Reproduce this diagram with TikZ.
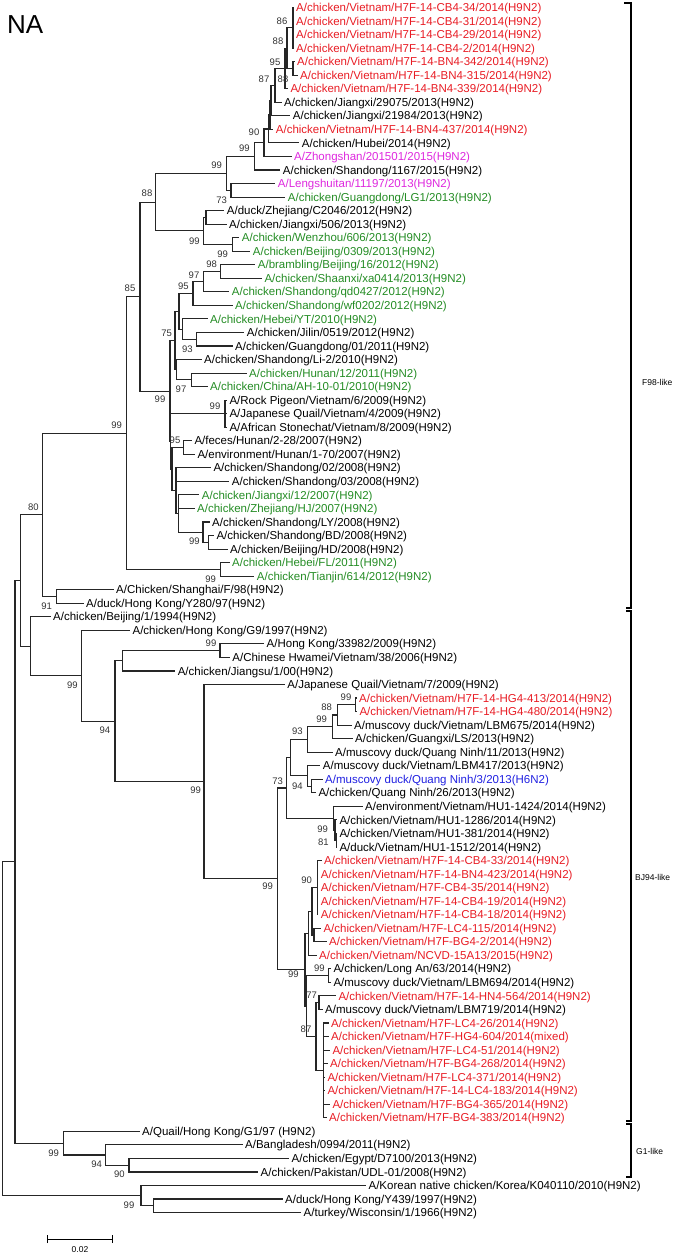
\documentclass[tikz,border=0pt]{standalone}
\usepackage{fontspec}
\setmainfont{Liberation Sans}
\definecolor{cr}{RGB}{232,28,36}
\definecolor{cm}{RGB}{222,40,222}
\definecolor{cg}{RGB}{36,140,36}
\definecolor{cb}{RGB}{32,32,225}
\newcommand\LF[4]{\coordinate (L#1) at (#2,{7.5+(#1-1)*13.54});\node[lf,text=#3] (T#1) at ([xshift=3pt]L#1) {#4};}
\newcommand\IN[3]{\coordinate (#1) at (#2,{7.5+(#3-1)*13.54});}
\newcommand\E[2]{\foreach \c in {#2} {\draw[br] (#1) |- (\c);}}
\newcommand\BS[4]{\node[bs] (#1) at (#2,#3) {#4};}
\begin{document}
\begin{tikzpicture}[x=1pt,y=-1pt,
  br/.style={line width=1.1pt,black!85,line cap=rect},
  lf/.style={anchor=west,inner sep=0pt,font=\fontsize{11.5}{12}\selectfont,text height=9pt,text depth=0.8pt},
  bs/.style={inner sep=0pt,font=\fontsize{9.5}{10}\selectfont,text=black!80},
  cl/.style={anchor=west,inner sep=0pt,font=\fontsize{8.5}{9}\selectfont},
  brk/.style={line width=1.2pt,black}]
\useasboundingbox (0,0) rectangle (674,1255);
\node[anchor=west,inner sep=0pt,font=\fontsize{26}{28}\selectfont] (title) at (7,25) {NA};
% leaves
\LF{1}{293}{cr}{A/chicken/Vietnam/H7F-14-CB4-34/2014(H9N2)}
\LF{2}{293}{cr}{A/chicken/Vietnam/H7F-14-CB4-31/2014(H9N2)}
\LF{3}{293}{cr}{A/chicken/Vietnam/H7F-14-CB4-29/2014(H9N2)}
\LF{4}{293}{cr}{A/chicken/Vietnam/H7F-14-CB4-2/2014(H9N2)}
\LF{5}{294}{cr}{A/chicken/Vietnam/H7F-14-BN4-342/2014(H9N2)}
\LF{6}{297}{cr}{A/chicken/Vietnam/H7F-14-BN4-315/2014(H9N2)}
\LF{7}{287.3}{cr}{A/chicken/Vietnam/H7F-14-BN4-339/2014(H9N2)}
\LF{8}{281}{black}{A/chicken/Jiangxi/29075/2013(H9N2)}
\LF{9}{289.7}{black}{A/chicken/Jiangxi/21984/2013(H9N2)}
\LF{10}{272.7}{cr}{A/chicken/Vietnam/H7F-14-BN4-437/2014(H9N2)}
\LF{11}{298.7}{black}{A/chicken/Hubei/2014(H9N2)}
\LF{12}{291}{cm}{A/Zhongshan/201501/2015(H9N2)}
\LF{13}{279.7}{black}{A/chicken/Shandong/1167/2015(H9N2)}
\LF{14}{274.7}{cm}{A/Lengshuitan/11197/2013(H9N2)}
\LF{15}{284.7}{cg}{A/chicken/Guangdong/LG1/2013(H9N2)}
\LF{16}{223.7}{black}{A/duck/Zhejiang/C2046/2012(H9N2)}
\LF{17}{226}{black}{A/chicken/Jiangxi/506/2013(H9N2)}
\LF{18}{238.7}{cg}{A/chicken/Wenzhou/606/2013(H9N2)}
\LF{19}{249.7}{cg}{A/chicken/Beijing/0309/2013(H9N2)}
\LF{20}{254.7}{cg}{A/brambling/Beijing/16/2012(H9N2)}
\LF{21}{261.3}{cg}{A/chicken/Shaanxi/xa0414/2013(H9N2)}
\LF{22}{228.7}{cg}{A/chicken/Shandong/qd0427/2012(H9N2)}
\LF{23}{232}{cg}{A/chicken/Shandong/wf0202/2012(H9N2)}
\LF{24}{207}{cg}{A/chicken/Hebei/YT/2010(H9N2)}
\LF{25}{243.7}{black}{A/chicken/Jilin/0519/2012(H9N2)}
\LF{26}{232}{black}{A/chicken/Guangdong/01/2011(H9N2)}
\LF{27}{201}{black}{A/chicken/Shandong/Li-2/2010(H9N2)}
\LF{28}{246}{cg}{A/chicken/Hunan/12/2011(H9N2)}
\LF{29}{207}{cg}{A/chicken/China/AH-10-01/2010(H9N2)}
\LF{30}{226.3}{black}{A/Rock Pigeon/Vietnam/6/2009(H9N2)}
\LF{31}{226.3}{black}{A/Japanese Quail/Vietnam/4/2009(H9N2)}
\LF{32}{226.3}{black}{A/African Stonechat/Vietnam/8/2009(H9N2)}
\LF{33}{191.3}{black}{A/feces/Hunan/2-28/2007(H9N2)}
\LF{34}{194.3}{black}{A/environment/Hunan/1-70/2007(H9N2)}
\LF{35}{210.3}{black}{A/chicken/Shandong/02/2008(H9N2)}
\LF{36}{228.7}{black}{A/chicken/Shandong/03/2008(H9N2)}
\LF{37}{198.7}{cg}{A/chicken/Jiangxi/12/2007(H9N2)}
\LF{38}{194}{cg}{A/chicken/Zhejiang/HJ/2007(H9N2)}
\LF{39}{209}{black}{A/chicken/Shandong/LY/2008(H9N2)}
\LF{40}{213.3}{black}{A/chicken/Shandong/BD/2008(H9N2)}
\LF{41}{227}{black}{A/chicken/Beijing/HD/2008(H9N2)}
\LF{42}{229}{cg}{A/chicken/Hebei/FL/2011(H9N2)}
\LF{43}{253.7}{cg}{A/chicken/Tianjin/614/2012(H9N2)}
\LF{44}{113}{black}{A/Chicken/Shanghai/F/98(H9N2)}
\LF{45}{83}{black}{A/duck/Hong Kong/Y280/97(H9N2)}
\LF{46}{50}{black}{A/chicken/Beijing/1/1994(H9N2)}
\LF{47}{129.4}{black}{A/chicken/Hong Kong/G9/1997(H9N2)}
\LF{48}{263.5}{black}{A/Hong Kong/33982/2009(H9N2)}
\LF{49}{229.2}{black}{A/Chinese Hwamei/Vietnam/38/2006(H9N2)}
\LF{50}{174.6}{black}{A/chicken/Jiangsu/1/00(H9N2)}
\LF{51}{284.2}{black}{A/Japanese Quail/Vietnam/7/2009(H9N2)}
\LF{52}{356}{cr}{A/chicken/Vietnam/H7F-14-HG4-413/2014(H9N2)}
\LF{53}{356.3}{cr}{A/chicken/Vietnam/H7F-14-HG4-480/2014(H9N2)}
\LF{54}{351}{black}{A/muscovy duck/Vietnam/LBM675/2014(H9N2)}
\LF{55}{352}{black}{A/chicken/Guangxi/LS/2013(H9N2)}
\LF{56}{332}{black}{A/muscovy duck/Quang Ninh/11/2013(H9N2)}
\LF{57}{319.7}{black}{A/muscovy duck/Vietnam/LBM417/2013(H9N2)}
\LF{58}{322}{cb}{A/muscovy duck/Quang Ninh/3/2013(H6N2)}
\LF{59}{315.3}{black}{A/chicken/Quang Ninh/26/2013(H9N2)}
\LF{60}{362}{black}{A/environment/Vietnam/HU1-1424/2014(H9N2)}
\LF{61}{336.3}{black}{A/chicken/Vietnam/HU1-1286/2014(H9N2)}
\LF{62}{336.3}{black}{A/chicken/Vietnam/HU1-381/2014(H9N2)}
\LF{63}{336.3}{black}{A/duck/Vietnam/HU1-1512/2014(H9N2)}
\LF{64}{321}{cr}{A/chicken/Vietnam/H7F-14-CB4-33/2014(H9N2)}
\LF{65}{317.7}{cr}{A/chicken/Vietnam/H7F-14-BN4-423/2014(H9N2)}
\LF{66}{317.7}{cr}{A/chicken/Vietnam/H7F-CB4-35/2014(H9N2)}
\LF{67}{317.7}{cr}{A/chicken/Vietnam/H7F-14-CB4-19/2014(H9N2)}
\LF{68}{317.7}{cr}{A/chicken/Vietnam/H7F-14-CB4-18/2014(H9N2)}
\LF{69}{320.3}{cr}{A/chicken/Vietnam/H7F-LC4-115/2014(H9N2)}
\LF{70}{326}{cr}{A/chicken/Vietnam/H7F-BG4-2/2014(H9N2)}
\LF{71}{316}{cr}{A/chicken/Vietnam/NCVD-15A13/2015(H9N2)}
\LF{72}{330.3}{black}{A/chicken/Long An/63/2014(H9N2)}
\LF{73}{330.3}{black}{A/muscovy duck/Vietnam/LBM694/2014(H9N2)}
\LF{74}{335.3}{cr}{A/chicken/Vietnam/H7F-14-HN4-564/2014(H9N2)}
\LF{75}{322}{black}{A/muscovy duck/Vietnam/LBM719/2014(H9N2)}
\LF{76}{328}{cr}{A/chicken/Vietnam/H7F-LC4-26/2014(H9N2)}
\LF{77}{328}{cr}{A/chicken/Vietnam/H7F-HG4-604/2014(mixed)}
\LF{78}{329.3}{cr}{A/chicken/Vietnam/H7F-LC4-51/2014(H9N2)}
\LF{79}{327}{cr}{A/chicken/Vietnam/H7F-BG4-268/2014(H9N2)}
\LF{80}{324.3}{cr}{A/chicken/Vietnam/H7F-LC4-371/2014(H9N2)}
\LF{81}{324.3}{cr}{A/chicken/Vietnam/H7F-14-LC4-183/2014(H9N2)}
\LF{82}{329.3}{cr}{A/chicken/Vietnam/H7F-BG4-365/2014(H9N2)}
\LF{83}{326}{cr}{A/chicken/Vietnam/H7F-BG4-383/2014(H9N2)}
\LF{84}{139}{black}{A/Quail/Hong Kong/G1/97 (H9N2)}
\LF{85}{242}{black}{A/Bangladesh/0994/2011(H9N2)}
\LF{86}{288.5}{black}{A/chicken/Egypt/D7100/2013(H9N2)}
\LF{87}{257.5}{black}{A/chicken/Pakistan/UDL-01/2008(H9N2)}
\LF{88}{365.4}{black}{A/Korean native chicken/Korea/K040110/2010(H9N2)}
\LF{89}{282}{black}{A/duck/Hong Kong/Y439/1997(H9N2)}
\LF{90}{300.5}{black}{A/turkey/Wisconsin/1/1966(H9N2)}
% internal nodes
\IN{N1_4}{293}{2.5}\IN{N5_6}{293}{5.5}\IN{N1_6}{287}{4}\IN{N1_7}{285}{5.5}
\IN{N1_8}{275}{6.75}\IN{N1_9}{271}{7.875}\IN{N1_10}{270}{8.9375}\IN{N1_11}{268.3}{9.97}
\IN{N1_12}{264}{10.98}\IN{Nb}{254.3}{11.99}\IN{Nd}{231}{14.5}\IN{Nc}{226.7}{13.245}
\IN{Ng}{206}{16.5}\IN{Nh}{232.7}{18.5}\IN{Nf}{203.5}{17.5}\IN{Ne}{155.7}{15.37}
\IN{n20_21}{220.7}{20.5}\IN{n20_22}{203.3}{21.25}\IN{n20_23}{193}{22.125}
\IN{n25_26}{196.7}{25.5}\IN{n24_26}{182.7}{24.75}\IN{n20_26}{179}{23.44}
\IN{n28_29}{191.7}{28.5}\IN{n27_29}{176.7}{27.75}\IN{n20_29}{175}{25.6}
\IN{n30_32}{225}{31}\IN{n33_34}{183.3}{33.5}\IN{n40_41}{208.5}{40.5}\IN{n39_41}{203}{39.75}
\IN{nD}{178.5}{38.375}\IN{nE}{176}{36.69}\IN{nF}{172}{35.09}\IN{nG}{170.5}{33.05}
\IN{nH}{170}{29.33}\IN{Ni}{140}{22.35}\IN{n42_43}{220.5}{42.5}\IN{Nl}{126.7}{32.43}
\IN{Nn}{56.7}{44.5}\IN{Nm}{42.7}{38.46}
\IN{n48_49}{220}{48.5}\IN{n48_50}{122.7}{49.25}
\IN{n52_53}{355.5}{52.5}\IN{n52_54}{337.3}{53.25}\IN{n52_55}{332.7}{54.125}\IN{n52_56}{307.3}{55.06}
\IN{n58_59}{311.7}{58.5}\IN{n57_59}{307.3}{57.75}\IN{n52_59}{290.7}{56.41}
\IN{n62_63}{336.5}{62.5}\IN{n61_63}{335}{61.75}\IN{nHU}{333.3}{60.875}\IN{n73}{286.7}{58.64}
\IN{n64_68}{317.3}{66}\IN{n69_70}{314}{69.5}\IN{n64_70}{312}{67.75}\IN{n64_71}{308.3}{69.375}
\IN{n72_73}{328.3}{72.5}\IN{n74_75}{319}{74.5}\IN{n76_83}{323.3}{79.5}\IN{n74_83}{316}{77}
\IN{n72_83}{306.5}{74.75}\IN{Nee}{305}{72.06}\IN{Ndd}{277.5}{65.35}\IN{Naa}{204}{58.18}
\IN{Nz}{115}{53.71}\IN{Ny}{81.7}{50.36}\IN{Nx}{30.7}{48.18}\IN{Nw}{20.7}{43.32}
\IN{Nt}{129}{86.5}\IN{Ns}{105.3}{85.75}\IN{Nr}{63.6}{84.875}\IN{Nq}{15}{64.1}
\IN{Nv}{153.5}{89.5}\IN{Nu}{141}{88.75}\IN{Nroot}{2.7}{76.4}
% edges
\E{N1_4}{L1,L2,L3,L4}\E{N5_6}{L5,L6}\E{N1_6}{N1_4,N5_6}\E{N1_7}{N1_6,L7}
\E{N1_8}{N1_7,L8}\E{N1_9}{N1_8,L9}\E{N1_10}{N1_9,L10}\E{N1_11}{N1_10,L11}
\E{N1_12}{N1_11,L12}\E{Nb}{N1_12,L13}\E{Nd}{L14,L15}\E{Nc}{Nb,Nd}
\E{Ng}{L16,L17}\E{Nh}{L18,L19}\E{Nf}{Ng,Nh}\E{Ne}{Nc,Nf}
\E{n20_21}{L20,L21}\E{n20_22}{n20_21,L22}\E{n20_23}{n20_22,L23}
\E{n25_26}{L25,L26}\E{n24_26}{L24,n25_26}\E{n20_26}{n20_23,n24_26}
\E{n28_29}{L28,L29}\E{n27_29}{L27,n28_29}\E{n20_29}{n20_26,n27_29}
\E{n30_32}{L30,L31,L32}\E{n33_34}{L33,L34}\E{n40_41}{L40,L41}\E{n39_41}{L39,n40_41}
\E{nD}{L37,L38,n39_41}\E{nE}{L35,L36,nD}\E{nF}{n33_34,nE}\E{nG}{n30_32,nF}
\E{nH}{n20_29,nG}\E{Ni}{Ne,nH}\E{n42_43}{L42,L43}\E{Nl}{Ni,n42_43}
\E{Nn}{L44,L45}\E{Nm}{Nl,Nn}
\E{n48_49}{L48,L49}\E{n48_50}{n48_49,L50}
\E{n52_53}{L52,L53}\E{n52_54}{n52_53,L54}\E{n52_55}{n52_54,L55}\E{n52_56}{n52_55,L56}
\E{n58_59}{L58,L59}\E{n57_59}{L57,n58_59}\E{n52_59}{n52_56,n57_59}
\E{n62_63}{L62,L63}\E{n61_63}{L61,n62_63}\E{nHU}{L60,n61_63}\E{n73}{n52_59,nHU}
\E{n64_68}{L64,L65,L66,L67,L68}\E{n69_70}{L69,L70}\E{n64_70}{n64_68,n69_70}\E{n64_71}{n64_70,L71}
\E{n72_73}{L72,L73}\E{n74_75}{L74,L75}\E{n76_83}{L76,L77,L78,L79,L80,L81,L82,L83}
\E{n74_83}{n74_75,n76_83}\E{n72_83}{n72_73,n74_83}\E{Nee}{n64_71,n72_83}
\E{Ndd}{n73,Nee}\E{Naa}{L51,Ndd}\E{Nz}{n48_50,Naa}\E{Ny}{L47,Nz}\E{Nx}{L46,Ny}
\E{Nw}{Nm,Nx}
\E{Nt}{L86,L87}\E{Ns}{L85,Nt}\E{Nr}{L84,Ns}\E{Nq}{Nw,Nr}
\E{Nv}{L89,L90}\E{Nu}{L88,Nv}\E{Nroot}{Nq,Nu}
% bootstrap values
\BS{b1}{282}{21}{86}\BS{b2}{278}{41.7}{88}\BS{b3}{275}{62}{95}\BS{b4}{264}{79}{87}
\BS{b5}{283}{79}{88}\BS{b6}{254}{132.7}{90}\BS{b7}{244.3}{148.3}{99}\BS{b8}{216.7}{165.7}{99}
\BS{b9}{221.7}{200}{73}\BS{b10}{147}{193}{88}\BS{b11}{194.3}{241}{99}\BS{b12}{222.7}{254}{99}
\BS{b13}{211.7}{264.3}{98}\BS{b14}{194}{275}{97}\BS{b15}{183.3}{286.7}{95}\BS{b16}{130}{288.3}{85}
\BS{b17}{166.7}{333.3}{75}\BS{b18}{187.3}{349.3}{93}\BS{b19}{181}{389.3}{97}\BS{b20}{160}{399.3}{99}
\BS{b21}{215}{406.7}{99}\BS{b22}{116.7}{425}{99}\BS{b23}{175}{440.7}{95}\BS{b24}{33.3}{507.3}{80}
\BS{b25}{194.3}{541.7}{99}\BS{b26}{210.7}{579.3}{99}\BS{b27}{46.7}{606}{91}\BS{b28}{211}{643.3}{99}
\BS{b29}{72.3}{685}{99}\BS{b30}{346}{697.3}{99}\BS{b31}{326.7}{707.3}{88}\BS{b32}{321.7}{719}{99}
\BS{b33}{297.3}{731.7}{93}\BS{b34}{105}{730}{94}\BS{b35}{277.7}{781.7}{73}\BS{b36}{297.3}{786}{94}
\BS{b37}{322.7}{829.3}{99}\BS{b38}{323.3}{842.7}{81}\BS{b39}{306.7}{880.7}{90}\BS{b40}{267.7}{886.7}{99}
\BS{b41}{319.3}{968.3}{99}\BS{b42}{293.3}{974}{99}\BS{b43}{311.7}{995}{77}\BS{b44}{306}{1029}{87}
\BS{b45}{53.7}{1153.3}{99}\BS{b46}{96.7}{1164}{94}\BS{b47}{119.5}{1174}{90}\BS{b48}{129}{1205}{99}
\BS{b49}{195.7}{790}{99}
% clade brackets
\coordinate (F1) at (624,3);\coordinate (F2) at (631,3);\coordinate (F3) at (631,608);\coordinate (F4) at (626,608);
\coordinate (B1) at (626,611);\coordinate (B2) at (631,611);\coordinate (B3) at (631,1121);\coordinate (B4) at (626,1121);
\coordinate (G1a) at (626,1124);\coordinate (G1b) at (631,1124);\coordinate (G1c) at (631,1177);\coordinate (G1d) at (626,1177);
\draw[brk] (F1) -- (F2) -- (F3) -- (F4);
\draw[brk] (B1) -- (B2) -- (B3) -- (B4);
\draw[brk] (G1a) -- (G1b) -- (G1c) -- (G1d);
\node[cl] (cF) at (642,382) {F98-like};
\node[cl] (cB) at (635,877) {BJ94-like};
\node[cl] (cG) at (636,1151) {G1-like};
% scale bar
\coordinate (S1) at (47,1239);\coordinate (S2) at (112.6,1239);
\draw[line width=1pt] (S1) -- (S2);
\draw[line width=1pt] ([yshift=-4pt]S1) -- ([yshift=4pt]S1);
\draw[line width=1pt] ([yshift=-4pt]S2) -- ([yshift=4pt]S2);
\node[inner sep=0pt,font=\fontsize{8.5}{9}\selectfont] (sl) at (80,1250) {0.02};
\end{tikzpicture}
\end{document}
